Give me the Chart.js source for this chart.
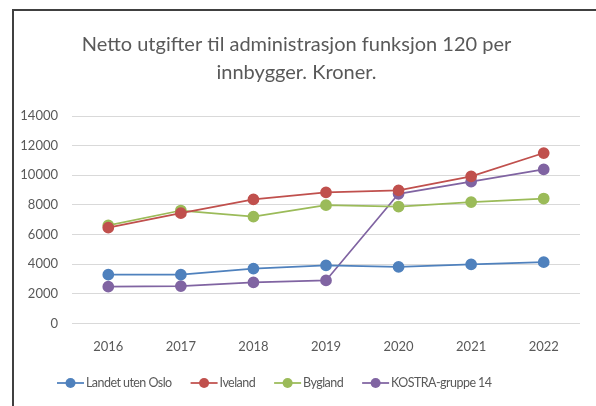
<!DOCTYPE html>
<html>
<head>
<meta charset="utf-8">
<script src="https://cdn.jsdelivr.net/npm/chart.js@4"></script>
<style>
  html, body { margin: 0; padding: 0; background: #fff; }
  #wrap { width: 596px; height: 406px; }
</style>
</head>
<body>
<div id="wrap"><canvas id="chart1"></canvas></div>
<script>
// data
const years = ['2016', '2017', '2018', '2019', '2020', '2021', '2022'];
const landetUtenOslo = [3290, 3290, 3700, 3920, 3810, 3990, 4130];
const iveland = [6460, 7440, 8370, 8840, 8980, 9930, 11500];
const bygland = [6620, 7620, 7210, 7980, 7890, 8190, 8430];
const kostra14 = [2480, 2520, 2770, 2900, 8750, 9570, 10400];

const titleLines = ['Netto utgifter til administrasjon funksjon 120 per', 'innbygger. Kroner.'];
const font = 'Lato';
const textColor = '#595959';

function series(label, data, color) {
  return {
    label: label,
    data: data,
    borderColor: color,
    backgroundColor: color,
    pointBackgroundColor: color,
    pointBorderColor: color,
    borderWidth: 1.75,
    pointRadius: 5,
    pointHoverRadius: 5,
    tension: 0
  };
}

// frame round the chart, like the original
const framePlugin = {
  id: 'frame',
  beforeDraw(chart) {
    const c = chart.ctx;
    c.save();
    c.fillStyle = '#fff';
    c.fillRect(0, 0, chart.width, chart.height);
    c.strokeStyle = '#404040';
    c.lineWidth = 2;
    c.beginPath();
    c.moveTo(13, chart.height);
    c.lineTo(13, 10);
    c.lineTo(chart.width, 10);
    c.stroke();
    c.restore();
  }
};

// legend drawn by hand so it sits where the original has it
const legendPlugin = {
  id: 'handLegend',
  afterDraw(chart) {
    const c = chart.ctx;
    c.save();
    c.font = '12.5px ' + font;
    c.letterSpacing = '-0.55px';
    c.textBaseline = 'middle';
    let x = 57;
    const y = 383;
    chart.data.datasets.forEach(ds => {
      c.strokeStyle = ds.borderColor;
      c.lineWidth = 1.75;
      c.beginPath();
      c.moveTo(x, y);
      c.lineTo(x + 27, y);
      c.stroke();
      c.fillStyle = ds.borderColor;
      c.beginPath();
      c.arc(x + 13.5, y, 5, 0, Math.PI * 2);
      c.fill();
      c.fillStyle = textColor;
      c.fillText(ds.label, x + 29, y);
      x += 29 + c.measureText(ds.label).width + 19;
    });
    c.restore();
  }
};

const ctx = document.getElementById('chart1').getContext('2d');
const chart1 = new Chart(ctx, {
  type: 'line',
  data: {
    labels: years,
    datasets: [
      series('Landet uten Oslo', landetUtenOslo, '#4F81BD'),
      series('Iveland', iveland, '#C0504D'),
      series('Bygland', bygland, '#9BBB59'),
      series('KOSTRA-gruppe 14', kostra14, '#8064A2')
    ]
  },
  options: {
    responsive: true,
    maintainAspectRatio: false,
    animation: false,
    layout: {
      padding: { left: 13, top: 10, right: 16, bottom: 35 }
    },
    plugins: {
      legend: { display: false },
      tooltip: { enabled: false },
      title: {
        display: true,
        text: titleLines,
        color: textColor,
        font: { family: font, size: 20, weight: 'normal', lineHeight: 1.4 },
        padding: { top: 21, bottom: 29 }
      }
    },
    scales: {
      x: {
        offset: true,
        grid: { display: false, drawTicks: false },
        border: { display: false },
        ticks: { color: textColor, font: { family: font, size: 13 }, padding: 16 }
      },
      y: {
        min: 0,
        max: 14000,
        grid: { color: '#d9d9d9', lineWidth: 1, drawTicks: false },
        border: { display: false },
        ticks: {
          stepSize: 2000,
          color: textColor,
          font: { family: font, size: 13 },
          padding: 14,
          callback: v => String(v)
        },
        afterFit(scale) { scale.width = 59; }
      }
    }
  },
  plugins: [framePlugin, legendPlugin]
});
</script>
</body>
</html>
